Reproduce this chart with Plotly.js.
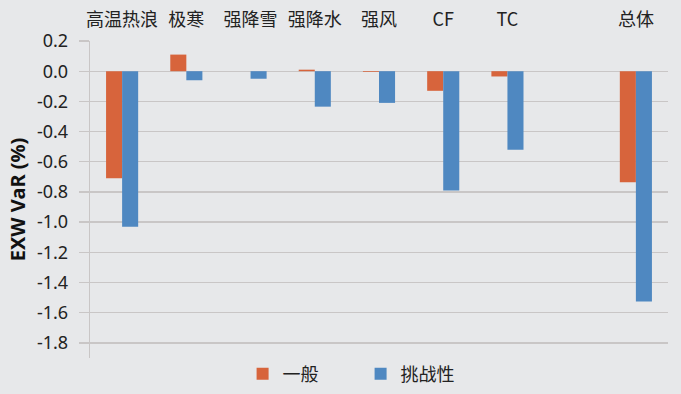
<!DOCTYPE html>
<html>
<head>
<meta charset="utf-8">
<script src="https://cdn.plot.ly/plotly-3.0.1.min.js"></script>
<style>
html,body{margin:0;padding:0;background:#e7e8ea;}
#chart{width:681px;height:394px;}
</style>
</head>
<body>
<div id="chart"></div>
<script>
const categories = ["高温热浪", "极寒", "强降雪", "强降水", "强风", "CF", "TC", " ", "总体"];
const seriesNames = ["一般", "挑战性"];
const general = [-0.71, 0.11, 0.0, 0.01, -0.005, -0.13, -0.035, null, -0.735];
const challenging = [-1.03, -0.06, -0.05, -0.235, -0.21, -0.79, -0.52, null, -1.525];
const yTickVals = [0.2, 0.0, -0.2, -0.4, -0.6, -0.8, -1.0, -1.2, -1.4, -1.6, -1.8];
const yTickText = ["0.2", "0.0", "-0.2", "-0.4", "-0.6", "-0.8", "-1.0", "-1.2", "-1.4", "-1.6", "-1.8"];

const FONT = '"Noto Sans CJK SC", "Noto Sans", sans-serif';
const GRID = '#c9c6c6';

const traces = [
  {type: 'bar', name: seriesNames[0], x: categories, y: general,
   marker: {color: '#d7643c'}},
  {type: 'bar', name: seriesNames[1], x: categories, y: challenging,
   marker: {color: '#4f88c1'}}
];

const layout = {
  width: 681, height: 394,
  paper_bgcolor: '#e7e8ea', plot_bgcolor: '#e7e8ea',
  margin: {l: 90, r: 13, t: 41, b: 36, autoexpand: false},
  barmode: 'group', bargap: 0.5, bargroupgap: 0,
  font: {family: FONT, color: '#222222', size: 18},
  showlegend: true,
  legend: {orientation: 'h', x: 0.264, xanchor: 'left', y: 0.008, yanchor: 'top',
           font: {family: FONT, size: 18, color: '#222222'},
           entrywidth: 73, entrywidthmode: 'pixels',
           itemwidth: 30, tracegroupgap: 0, bgcolor: 'rgba(0,0,0,0)'},
  xaxis: {side: 'top', type: 'category', showgrid: false, showline: false, zeroline: false,
          ticks: '', ticklabelstandoff: 10,
          tickfont: {family: FONT, size: 18, color: '#222222'}, fixedrange: true},
  yaxis: {range: [-1.9, 0.2], tickmode: 'array', tickvals: yTickVals, ticktext: yTickText,
          showgrid: true, gridcolor: GRID, gridwidth: 1.3, zeroline: false,
          showline: true, linecolor: GRID, linewidth: 1.3,
          ticks: 'outside', ticklen: 10, tickcolor: GRID, tickwidth: 1.3,
          ticklabelstandoff: 7,
          tickfont: {family: '"Noto Sans", sans-serif', size: 18, color: '#222222'},
          title: {text: 'EXW VaR (%)', font: {family: '"Noto Sans", sans-serif', size: 20, color: '#111111', weight: 'bold'}, standoff: 6}}
};

Plotly.newPlot('chart', traces, layout, {displayModeBar: false, staticPlot: true});
</script>
</body>
</html>
